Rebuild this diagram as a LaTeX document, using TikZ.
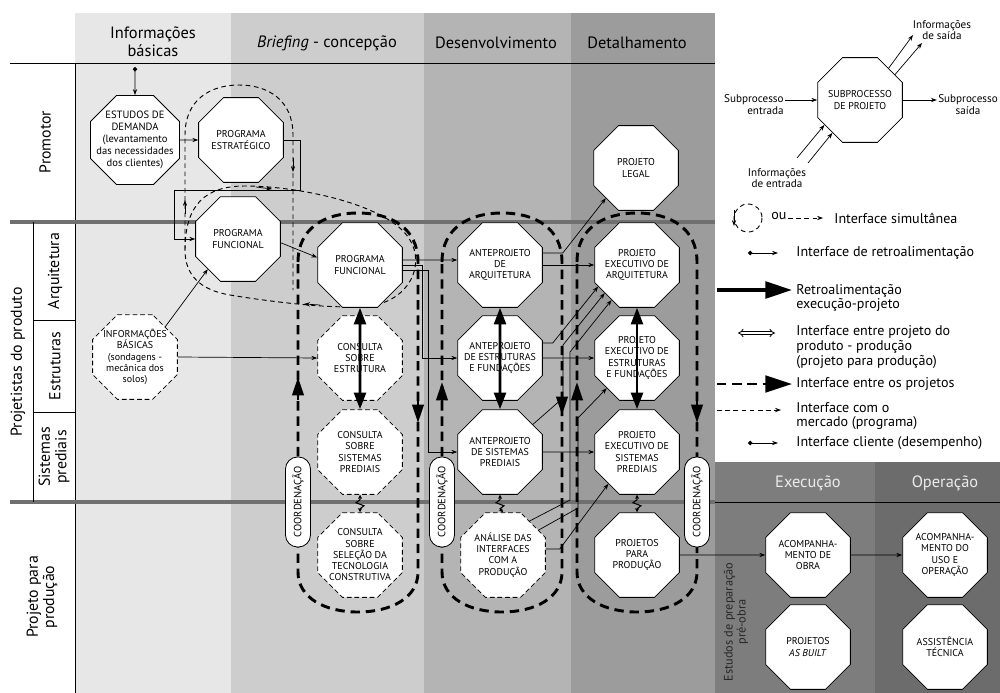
\documentclass[tikz,border=0pt]{standalone}
\usepackage{fontspec}
\setmainfont{PT Sans}
\usetikzlibrary{calc,positioning,arrows.meta,shapes.geometric}
\definecolor{colInfo}{HTML}{E7E7E7}
\definecolor{colBrief}{HTML}{CDCDCD}
\definecolor{colDes}{HTML}{B4B4B4}
\definecolor{colDet}{HTML}{9C9C9C}
\definecolor{colExe}{HTML}{7D7D7D}
\definecolor{colOpe}{HTML}{6C6C6C}
\definecolor{rowline}{HTML}{707070}
\newcommand{\octfont}{\fontsize{8.5}{9.6}\selectfont}
\newcommand{\edfont}{\fontsize{9}{10.2}\selectfont}
\newcommand{\hdrfont}{\fontsize{14}{15}\selectfont}
\newcommand{\rowfont}{\fontsize{13.5}{14}\selectfont}
\newcommand{\lgfont}{\fontsize{12}{12.5}\selectfont}
\newcommand{\smfont}{\fontsize{9.5}{10}\selectfont}
\newcommand{\estfont}{\fontsize{10.5}{11}\selectfont}
\newcommand{\pillfont}{\fontsize{9}{9}\selectfont}
\tikzset{oct/.style={regular polygon, regular polygon sides=8, draw=black, fill=white,
         minimum size=27.5mm, inner sep=-6pt, align=center, font=\octfont, line width=0.7pt}}
\tikzset{octd/.style={oct, dash pattern=on 4pt off 2.5pt}}

\begin{document}
\begin{tikzpicture}[
  x=0.3mm, y=-0.3mm,
  arr/.style={-{Stealth[length=5pt,width=3.6pt]}, line width=0.6pt},
  cli/.style={{Circle[length=3.8pt]}-{Stealth[length=5pt,width=3.6pt]}, line width=0.6pt},
  mkt/.style={line width=0.8pt, dash pattern=on 4pt off 3pt},
  coordloop/.style={line width=2.5pt, dash pattern=on 8pt off 5pt},
  bigtip/.style={-{Triangle[length=5.5mm,width=3.4mm]}},
  retro/.style={{Triangle[length=5mm,width=3.6mm]}-{Triangle[length=5mm,width=3.6mm]}, line width=2.2pt},
  prodif/.style={{Stealth[length=3.5pt,width=3.5pt]}-{Stealth[length=3.5pt,width=3.5pt]}, line width=0.9pt},
  pill/.style={draw, fill=white, rounded corners=3.6mm, minimum width=27mm, minimum height=7.5mm,
               inner sep=0pt, font=\pillfont, rotate=90, line width=0.7pt},
  hdr/.style={font=\hdrfont, align=center},
  rowlbl/.style={font=\rowfont, rotate=90, align=center},
  lgtxt/.style={font=\lgfont, align=left, anchor=west, inner sep=1pt},
  smtxt/.style={font=\smfont, inner sep=1pt},
]
 \useasboundingbox (0,0) rectangle (1000,693);
 \fill[white] (0,0) rectangle (1000,693);

 % Column backgrounds
 \fill[colInfo] (75,13) rectangle (231,693);
 \fill[colBrief] (231,13) rectangle (424,693);
 \fill[colDes] (424,13) rectangle (571,693);
 \fill[colDet] (571,13) rectangle (715,693);
 \fill[colExe] (715,462) rectangle (875,693);
 \fill[colOpe] (875,462) rectangle (1000,693);

 % Grid lines
 \draw[line width=0.8pt] (10,63) -- (715,63);
 \draw[line width=0.6pt] (75,63) -- (75,693);
 \draw[rowline, line width=3pt] (10,222) -- (715,222);
 \draw[rowline, line width=3pt] (10,502) -- (715,502);
 \draw[line width=0.8pt] (715,502) -- (1000,502);
 \draw[line width=0.6pt] (33,222) -- (33,502);
 \draw[line width=0.6pt] (33,320) -- (75,320);
 \draw[line width=0.6pt] (33,412) -- (75,412);

 % Column headers
 \node[hdr] (hInfo) at (153,42) {Informações\\básicas};
 \node[hdr] (hBrief) at (327,43) {\textit{Briefing} - concepção};
 \node[hdr] (hDes) at (496,43) {Desenvolvimento};
 \node[hdr] (hDet) at (637,43) {Detalhamento};
 \node[hdr, text=white!92!black] (hExe) at (808,483) {Execução};
 \node[hdr, text=white!92!black] (hOpe) at (945,483) {Operação};

 % Row labels
 \node[rowlbl] (rProm) at (45,142) {Promotor};
 \node[rowlbl] (rProj) at (18,362) {Projetistas do produto};
 \node[rowlbl] (rArq) at (55,271) {Arquitetura};
 \node[rowlbl] (rEst) at (55,366) {Estruturas};
 \node[rowlbl] (rSis) at (54,457) {Sistemas\\prediais};
 \node[rowlbl] (rProd) at (42,597) {Projeto para\\produção};
 \node[rotate=90, align=center, font=\estfont, text=black!85] (estPre) at (736,622)
   {Estudos de preparação\\pré-obra};

 % Market loops (thin dashed)
 \draw[mkt] (185,250) -- (185,135) .. controls (185,100) and (210,85) .. (239,85)
   .. controls (268,85) and (293,100) .. (293,135) -- (293,290);
 \draw[mkt] (185,250) .. controls (185,205) and (205,186) .. (245,186)
   .. controls (300,186) and (390,205) .. (410,240)
   .. controls (425,265) and (410,300) .. (370,306)
   .. controls (330,310) and (260,300) .. (230,295)
   .. controls (200,290) and (185,275) .. (185,250);
 \draw[arr] (185,214) -- (185,200);
 \draw[arr] (293,158) -- (293,172);
 \draw[arr] (256,187) -- (272,189);
 \draw[arr] (320,305) -- (304,304);

 % Coordination loops (thick dashed)
 \draw[coordloop] (298,262) .. controls (298,228) and (325,213) .. (358,213)
   .. controls (391,213) and (418,228) .. (418,262) -- (418,572)
   .. controls (418,598) and (391,612) .. (358,612)
   .. controls (325,612) and (298,598) .. (298,572) -- cycle;
 \draw[coordloop] (442,262) .. controls (442,228) and (469,213) .. (502,213)
   .. controls (535,213) and (562,228) .. (562,262) -- (562,572)
   .. controls (562,598) and (535,612) .. (502,612)
   .. controls (469,612) and (442,598) .. (442,572) -- cycle;
 \draw[coordloop] (577,262) .. controls (577,228) and (604,213) .. (637,213)
   .. controls (670,213) and (697,228) .. (697,262) -- (697,572)
   .. controls (697,598) and (670,612) .. (637,612)
   .. controls (604,612) and (577,598) .. (577,572) -- cycle;
 \draw[coordloop, bigtip] (298,400) -- (298,377);
 \draw[coordloop, bigtip] (418,400) -- (418,423);
 \draw[coordloop, bigtip] (442,405) -- (442,382);
 \draw[coordloop, bigtip] (562,392) -- (562,415);
 \draw[coordloop, bigtip] (577,405) -- (577,382);
 \draw[coordloop, bigtip] (697,400) -- (697,423);

 % Promotor
 \node[oct, font=\edfont] (ED) at (135,140)
   {ESTUDOS DE\\DEMANDA\\(levantamento\\das necessidades\\dos clientes)};
 \node[oct] (PE) at (241,140) {PROGRAMA\\ESTRATÉGICO};
 \node[oct] (Legal) at (636,168) {PROJETO\\LEGAL};

 % Arquitetura
 \node[oct] (PF1) at (238,239) {PROGRAMA\\FUNCIONAL};
 \node[oct] (PF2) at (360,265) {PROGRAMA\\FUNCIONAL};
 \node[oct] (AA) at (500,265) {ANTEPROJETO\\DE\\ARQUITETURA};
 \node[oct] (PEA) at (637,265) {PROJETO\\EXECUTIVO DE\\ARQUITETURA};

 % Estruturas
 \node[octd] (IB) at (135,357) {INFORMAÇÕES\\BÁSICAS\\(sondagens -\\mecânica dos\\solos)};
 \node[octd] (CE) at (360,358) {CONSULTA\\SOBRE\\ESTRUTURA};
 \node[oct] (AE) at (500,358) {ANTEPROJETO\\DE ESTRUTURAS\\E FUNDAÇÕES};
 \node[oct] (PEE) at (637,358) {PROJETO\\EXECUTIVO DE\\ESTRUTURAS\\E FUNDAÇÕES};

 % Sistemas prediais
 \node[octd] (CS) at (360,452) {CONSULTA\\SOBRE\\SISTEMAS\\PREDIAIS};
 \node[oct] (AS) at (500,452) {ANTEPROJETO\\DE SISTEMAS\\PREDIAIS};
 \node[oct] (PES) at (637,452) {PROJETO\\EXECUTIVO DE\\SISTEMAS\\PREDIAIS};

 % Projeto para producao
 \node[octd] (CT) at (360,555) {CONSULTA\\SOBRE\\SELEÇÃO DA\\TECNOLOGIA\\CONSTRUTIVA};
 \node[octd] (AI) at (503,555) {ANÁLISE DAS\\INTERFACES\\COM A\\PRODUÇÃO};
 \node[oct] (PP) at (637,555) {PROJETOS\\PARA\\PRODUÇÃO};

 % Execucao / Operacao
 \node[oct] (AO) at (808,555) {ACOMPANHA-\\MENTO DE\\OBRA};
 \node[oct] (AUO) at (945,555) {ACOMPANHA-\\MENTO DO\\USO E\\OPERAÇÃO};
 \node[oct] (ASB) at (808,647) {PROJETOS\\\textit{AS BUILT}};
 \node[oct] (AT) at (945,647) {ASSISTÊNCIA\\TÉCNICA};

 % Coordination tags
 \node[pill] (co1) at (298,502) {COORDENAÇÃO};
 \node[pill] (co2) at (442,502) {COORDENAÇÃO};
 \node[pill] (co3) at (697,502) {COORDENAÇÃO};

 % Connectors
 \coordinate (cliIn) at (135,67);
 \draw[cli] (cliIn) -- (ED.north);
 \draw[arr] (ED.east) -- (PE.west);
 \draw[arr] (PE.east) -| ++(17,50) -| ($(PF1.west)+(-21,0)$) -- (PF1.west);
 \draw[arr] (IB.45) -- (PF1.225);
 \draw[arr] (IB.east) -- (CE.west);
 \draw[arr] (PF1.-5) -- (PF2.170);
 \draw[arr] ($(PF2.east)+(0,-5)$) -- ($(AA.west)+(0,-5)$);
 \draw[arr] (PF2.east) -- ++(20,0) |- (AE.west);
 \draw[arr] ($(PF2.east)+(0,5)$) -- ++(26,0) |- (AS.west);
 \draw[arr] (AA.east) -- (PEA.west);
 \draw[arr] ($(AA.east)+(0,-12)$) -- ++(20,0) -- (Legal.225);
 \draw[arr] (AE.east) -- (PEE.west);
 \draw[arr] (AS.east) -- (PES.west);
 \draw[arr] ($(AE.east)+(0,-15)$) -- ++(10,0) -- (PEA.209);
 \draw[arr] (AS.40) -- (563,398) -- (563,345) -- (PEA.221);
 \draw[arr] (AI.52) -- (570,500) -- (570,352) -- (PEA.234);
 \draw[arr] (AI.35) -- (578,508) -- (578,418) -- (PEE.225);
 \draw[arr] (AI.8) -- ++(14,0) -- (PES.228);
 \draw[arr] (PP.east) -- (AO.west);
 \draw[arr] (AO.east) -- (AUO.west);

 \draw[retro] (PF2.south) -- (CS.north);
 \draw[retro] (AA.south) -- (AS.north);
 \draw[retro] (PEA.south) -- (PES.north);

 \draw[prodif] (CS.south) -- ++(0,5) -- ++(-4,3) -- ++(8,3) -- ++(-4,3) -- (CT.north);
 \draw[prodif] (AS.south) -- ++(0,5) -- ++(-4,3) -- ++(8,3) -- ++(-4,3) -- (AI.north);
 \draw[prodif] (PES.south) -- ++(0,5) -- ++(-4,3) -- ++(8,3) -- ++(-4,3) -- (PP.north);

 % Legend
 \node[oct] (SUB) at (860,100) {SUBPROCESSO\\DE PROJETO};
 \node[smtxt, align=right, anchor=north east] (subIn) at (785,93) {Subprocesso\\entrada};
 \node[smtxt, align=center, anchor=north] (subOut) at (968,93) {Subprocesso\\saída};
 \node[smtxt, align=center] (infOut) at (942,30) {Informações\\de saída};
 \node[smtxt, align=center] (infIn) at (777,178) {Informações\\de entrada};
 \draw[arr] (SUB.west -| subIn.east) -- (SUB.west);
 \draw[arr] (SUB.east) -- (SUB.east -| subOut.west);
 \coordinate (os1) at (913,35);
 \coordinate (os2) at (922,43);
 \draw[arr] (SUB.48) -- (os1);
 \draw[arr] (SUB.36) -- (os2);
 \coordinate (ie1) at (797,158);
 \coordinate (ie2) at (808,163);
 \draw[arr] (ie1) -- (SUB.215);
 \draw[arr] (ie2) -- (SUB.230);

 \node[lgtxt] (lgSim) at (833,218) {Interface simultânea};
 \node[font=\lgfont] (lgOu) at (779,216) {ou};
 \draw[mkt] (748,218) circle[radius=14];
 \draw[arr] (734,210) -- (734,226);
 \draw[mkt, arr] ($(lgSim.west)+(-45,0)$) -- ($(lgSim.west)+(-10,0)$);

 \node[lgtxt] (lgRet) at (795,253) {Interface de retroalimentação};
 \draw[cli] ($(lgRet.west)+(-47,0)$) -- ($(lgRet.west)+(-17,0)$);

 \node[lgtxt] (lgExe) at (795,298) {Retroalimentação\\execução-projeto};
 \draw[line width=3pt, -{Triangle[length=8mm,width=5mm]}] ($(lgExe.west)+(-78,-8)$) -- ($(lgExe.west)+(-3,-8)$);

 \node[lgtxt] (lgPrd) at (795,347) {Interface entre projeto do\\produto - produção\\(projeto para produção)};
 \draw[double, double distance=1.6pt, line width=0.7pt, {Implies}-{Implies}] ($(lgPrd.west)+(-57,-14)$) -- ($(lgPrd.west)+(-20,-14)$);

 \node[lgtxt] (lgPrj) at (795,384) {Interface entre os projetos};
 \draw[coordloop, -{Triangle[length=8mm,width=5mm]}] ($(lgPrj.west)+(-78,0)$) -- ($(lgPrj.west)+(-3,0)$);

 \node[lgtxt] (lgMkt) at (795,416) {Interface com o\\mercado (programa)};
 \draw[mkt, arr] ($(lgMkt.west)+(-78,-6)$) -- ($(lgMkt.west)+(-14,-6)$);

 \node[lgtxt] (lgCli) at (795,443) {Interface cliente (desempenho)};
 \draw[cli] ($(lgCli.west)+(-47,0)$) -- ($(lgCli.west)+(-17,0)$);
\end{tikzpicture}
\end{document}
